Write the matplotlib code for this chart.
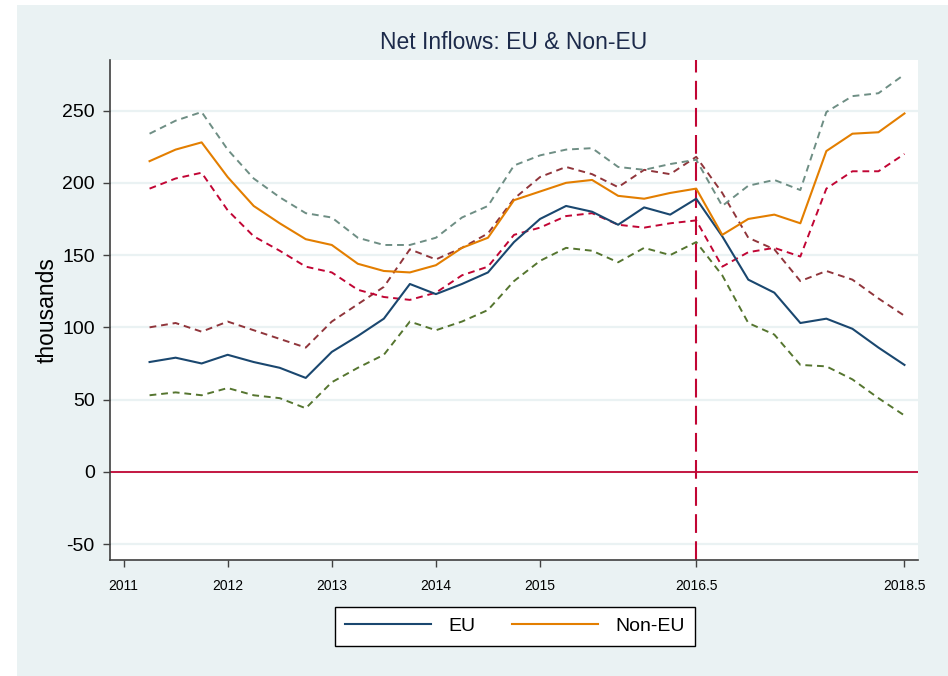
#!/usr/bin/python3
#Net inflows plot -- EU vs Non-EU with upper/lower bands, quarterly

import matplotlib as mpl
mpl.use("agg")
import matplotlib.pyplot as plt
from matplotlib.patches import Rectangle

#### Data (thousands) ####
quarters = [2011.25 + 0.25 * i for i in range(30)]

eu = [76, 79, 75, 81, 76, 72, 65, 83, 94, 106, 130, 123, 130, 138, 159,
      175, 184, 180, 171, 183, 178, 189, 163, 133, 124, 103, 106, 99, 86, 74]
eu_upper = [100, 103, 97, 104, 98, 92, 86, 104, 116, 128, 154, 147, 155, 165, 189,
            204, 211, 206, 197, 209, 206, 218, 193, 162, 154, 132, 139, 133, 120, 108]
eu_lower = [53, 55, 53, 58, 53, 51, 44, 62, 72, 81, 104, 98, 104, 112, 132,
            146, 155, 153, 145, 155, 150, 159, 136, 103, 95, 74, 73, 64, 51, 39]

non_eu = [215, 223, 228, 204, 184, 172, 161, 157, 144, 139, 138, 143, 155, 162, 188,
          194, 200, 202, 191, 189, 193, 196, 164, 175, 178, 172, 222, 234, 235, 248]
non_eu_upper = [234, 243, 249, 223, 203, 190, 179, 176, 162, 157, 157, 162, 176, 184, 212,
                219, 223, 224, 211, 209, 213, 216, 184, 198, 202, 195, 249, 260, 262, 275]
non_eu_lower = [196, 203, 207, 181, 163, 153, 142, 138, 126, 121, 119, 124, 136, 142, 164,
                169, 177, 179, 171, 169, 172, 174, 142, 152, 155, 149, 196, 208, 208, 220]

xticks = [2011, 2012, 2013, 2014, 2015, 2016.5, 2018.5]
xticklabels = ["2011", "2012", "2013", "2014", "2015", "2016.5", "2018.5"]
yticks = [-50, 0, 50, 100, 150, 200, 250]
referendum = 2016.5

#### Stata s2color palette ####
navy = "#1a476f"
maroon = "#90353b"
forest = "#55752f"
dkorange = "#e37e00"
teal = "#6e8e84"
cranberry = "#c10534"
bg = "#eaf2f3"

plt.rcParams["font.family"] = ["Liberation Sans", "DejaVu Sans"]

fig = plt.figure(figsize=(9.48, 6.76), dpi=100, facecolor="white")
fig.patches.append(Rectangle((17 / 948, 0), 1, 1 - 5 / 676, transform=fig.transFigure,
                             facecolor=bg, edgecolor="none", zorder=-10))

ax = fig.add_axes([110 / 948, 1 - 560 / 676, 808 / 948, 500 / 676])
ax.set_facecolor("white")

#### Grid, reference lines ####
for y in yticks:
    ax.axhline(y, color=bg, lw=1.6, zorder=0)
ax.axhline(0, color=cranberry, lw=1.3, zorder=1)
ax.axvline(referendum, color=cranberry, lw=1.5, dashes=(9, 4), zorder=1)

#### Series ####
dash = (3.5, 2.5)
ax.plot(quarters, eu_upper, color=maroon, lw=1.4, dashes=dash)
ax.plot(quarters, eu_lower, color=forest, lw=1.4, dashes=dash)
ax.plot(quarters, non_eu_upper, color=teal, lw=1.4, dashes=dash)
ax.plot(quarters, non_eu_lower, color=cranberry, lw=1.4, dashes=dash)
ax.plot(quarters, eu, color=navy, lw=1.5, label="EU")
ax.plot(quarters, non_eu, color=dkorange, lw=1.5, label="Non-EU")

#### Axes ####
ax.set_xlim(2010.87, 2018.63)
ax.set_ylim(-61, 285)
ax.set_xticks(xticks)
ax.set_xticklabels(xticklabels, fontsize=10)
ax.set_yticks(yticks)
ax.set_yticklabels([str(y) for y in yticks], fontsize=14)
ax.tick_params(direction="out", length=5, width=1, color="#404040", pad=6)
ax.tick_params(axis="x", pad=9)
for side in ["top", "right"]:
    ax.spines[side].set_visible(False)
for side in ["left", "bottom"]:
    ax.spines[side].set_color("#404040")
    ax.spines[side].set_linewidth(1.2)

ax.set_ylabel("thousands", fontsize=16.5)
ax.yaxis.set_label_coords(-0.063, 0.5)
ax.set_title("Net Inflows: EU & Non-EU", fontsize=16.5, color="#1c2a4a", pad=8)

leg = ax.legend(loc="center", bbox_to_anchor=(515 / 948, 1 - 626 / 676),
                bbox_transform=fig.transFigure, ncol=2, fontsize=14,
                handlelength=4.4, handletextpad=0.9, columnspacing=1.9,
                borderpad=0.55, fancybox=False, framealpha=1)
leg.get_frame().set_edgecolor("black")
leg.get_frame().set_linewidth(1)

fig.savefig("out.png", dpi=100, facecolor=fig.get_facecolor())
